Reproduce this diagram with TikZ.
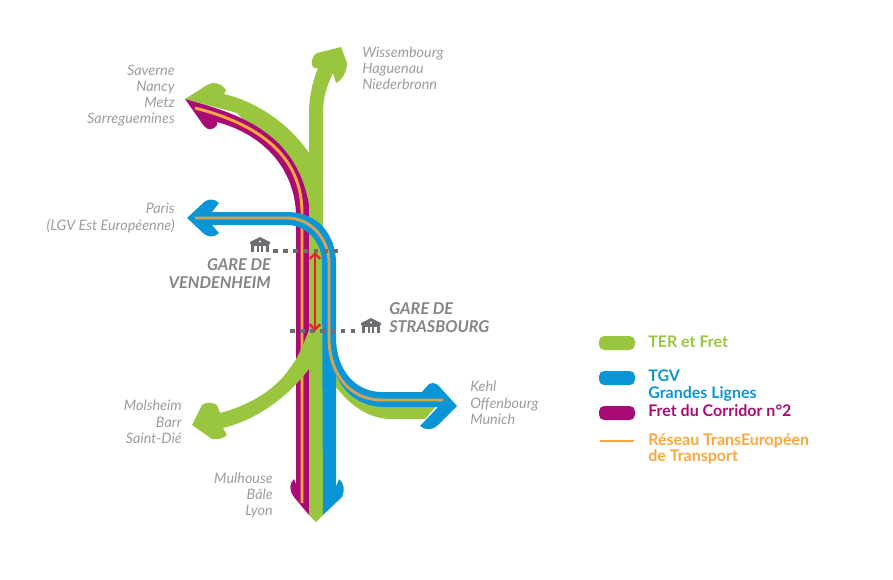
\documentclass[tikz,border=0pt]{standalone}
\usepackage{fontspec}
\usetikzlibrary{arrows.meta}
\setmainfont{Lato}
\definecolor{tgreen}{HTML}{9AC63F}
\definecolor{tblue}{HTML}{0A96D6}
\definecolor{tmag}{HTML}{A80C74}
\definecolor{torange}{HTML}{F9A73E}
\definecolor{ttan}{HTML}{CFA553}
\definecolor{tred}{HTML}{E3242F}
\definecolor{tgray}{HTML}{9C9C9F}
\definecolor{tdark}{HTML}{6D6E71}
\tikzset{
  lab/.style={inner sep=0pt,yshift=-1.1pt,text=tgray,font=\fontsize{10.8pt}{12pt}\selectfont\itshape,anchor=mid east},
  labl/.style={lab,anchor=mid west},
  gare/.style={inner sep=0pt,yshift=-1.1pt,text=tdark!85,font=\fontsize{12.2pt}{13pt}\selectfont\itshape\bfseries,anchor=mid east},
  garel/.style={gare,anchor=mid west},
  leg/.style={inner sep=0pt,yshift=-1.1pt,anchor=mid west,font=\fontsize{12pt}{12pt}\selectfont\bfseries},
  pill/.style={rounded corners=3.9pt,minimum width=27pt,minimum height=10.5pt,inner sep=0pt},
  oline/.style={line width=2.2pt,draw=torange},
  tline/.style={line width=2.2pt,draw=ttan},
  dots/.style={draw=tdark,line width=2.8pt,dash pattern=on 3.4pt off 4.2pt},
  house/.pic={
    \fill[tdark] (-10,-3) -- (0,-8) -- (10,-3) -- (10,-1) -- (-10,-1) -- cycle;
    \fill[tdark] (-9,-1) rectangle (-5.8,7);
    \fill[tdark] (-3.4,-1) rectangle (-0.9,7);
    \fill[tdark] (0.9,-1) rectangle (3.4,7);
    \fill[tdark] (5.8,-1) rectangle (9,7);
    \fill[tdark] (-9,-1) rectangle (9,1);
    \fill[white] (0,-3.5) circle (1.1);
  }
}
\begin{document}
\begin{tikzpicture}[x=0.75pt,y=-0.75pt]
\useasboundingbox (0,0) rectangle (893,579);
% green up-left branch
\fill[tgreen] (185,99) -- (207,85) .. controls (213,81) and (221,83) .. (226,90) -- (224,94)
  .. controls (258,102) and (290,125) .. (309,153) -- (309,205) -- (290,170) -- (237,113) -- cycle;
% magenta
\fill[tmag] (185,99) .. controls (235,113) and (296,130) .. (309,205) -- (309,515)
  -- (294,497) .. controls (289,490) and (289,484) .. (294,479) -- (296,484) -- (296,215)
  .. controls (295,170) and (265,135) .. (217,122) -- (217,125) .. controls (214,130) and (208,131) .. (204,126) -- cycle;
\draw[oline] (195,108) .. controls (250,122) and (302,150) .. (302,213) -- (302,503);
% green vertical + up arrow
\fill[tgreen] (309,515) -- (309,113) .. controls (309,98) and (312,83) .. (318,68) -- (314,68)
  .. controls (310,65) and (311,57) .. (317,53) -- (341,47) -- (347,63) .. controls (347,72) and (342,80) .. (336,83)
  -- (333,73) .. controls (327,85) and (323,98) .. (323,113) -- (323,515) -- (316,522) -- cycle;
% green left-down branch
\fill[tgreen] (309,330) .. controls (303,345) and (298,358) .. (290,368) .. controls (275,390) and (250,405) .. (220,413)
  -- (217,405) .. controls (212,402) and (206,402) .. (202,405) -- (192,425) -- (212,439) .. controls (218,440) and (224,438) .. (227,435)
  -- (223,428) .. controls (255,420) and (285,400) .. (309,369) -- cycle;
% green right branch
\fill[tgreen] (336,360) .. controls (345,385) and (365,400) .. (385,400) -- (438,404) -- (425,419) -- (392,419) .. controls (368,419) and (350,405) .. (336,387) -- cycle;
% blue
\fill[tblue] (187,218) -- (201,205) .. controls (207,198) and (214,198) .. (219,203) -- (212,212) -- (287,212)
  .. controls (318,212) and (336,235) .. (336,263) -- (336,340) .. controls (337,370) and (355,392) .. (382,392) -- (422,392)
  -- (428,385) .. controls (431,382) and (435,383) .. (438,385) -- (457,406) -- (438,425) .. controls (432,431) and (425,430) .. (420,426)
  -- (438,407) -- (385,407) .. controls (362,407) and (345,395) .. (336,375) -- (336,487) -- (339,479)
  .. controls (344,483) and (345,490) .. (342,497) -- (323,515) -- (322,263) .. controls (322,242) and (307,225) .. (287,225)
  -- (212,225) -- (219,233) .. controls (214,238) and (207,238) .. (201,231) -- cycle;
\draw[tline] (195,218) -- (287,218) .. controls (312,218) and (329,240) .. (329,263) -- (329,340) .. controls (330,375) and (350,400) .. (382,400) -- (443,400);
% stations
\draw[dots] (273,251) -- (342,251);
\draw[dots] (290,331) -- (358,331);
\draw[tred,line width=1.6pt,{Straight Barb[length=4pt,width=8pt]}-{Straight Barb[length=4pt,width=8pt]}] (315,252) -- (315,331);
\pic at (260,245) {house};
\pic at (371,326) {house};
% labels
\node[lab] (a1) at (175,71) {Saverne};
\node[lab] (a2) at (175,87) {Nancy};
\node[lab] (a3) at (175,103) {Metz};
\node[lab] (a4) at (175,119) {Sarreguemines};
\node[labl] (b1) at (362,53) {Wissembourg};
\node[labl] (b2) at (362,69) {Haguenau};
\node[labl] (b3) at (362,85) {Niederbronn};
\node[lab] (c1) at (175,209) {Paris};
\node[lab] (c2) at (175,226) {(LGV Est Européenne)};
\node[gare] (d1) at (271,266) {GARE DE};
\node[gare] (d2) at (271,284) {VENDENHEIM};
\node[garel] (e1) at (389,310) {GARE DE};
\node[garel] (e2) at (389,328) {STRASBOURG};
\node[labl] (f1) at (470,387) {Kehl};
\node[labl] (f2) at (470,404) {Offenbourg};
\node[labl] (f3) at (470,420) {Munich};
\node[lab] (g1) at (182,406) {Molsheim};
\node[lab] (g2) at (182,423) {Barr};
\node[lab] (g3) at (182,439) {Saint-Dié};
\node[lab] (h1) at (273,479) {Mulhouse};
\node[lab] (h2) at (273,495) {Bâle};
\node[lab] (h3) at (273,511) {Lyon};
% legend
\node[pill,fill=tgreen] (p1) at (617,343) {};
\node[pill,fill=tblue] (p2) at (617,378) {};
\node[pill,fill=tmag] (p3) at (617,413) {};
\coordinate (o1) at (600,441);
\coordinate (o2) at (634,441);
\draw[oline] (o1) -- (o2);
\node[leg,text=tgreen] (l1) at (648,343) {TER et Fret};
\node[leg,text=tblue] (l2) at (648,377) {TGV};
\node[leg,text=tblue] (l3) at (648,394) {Grandes Lignes};
\node[leg,text=tmag] (l4) at (648,412) {Fret du Corridor n°2};
\node[leg,text=torange] (l5) at (648,441) {Réseau TransEuropéen};
\node[leg,text=torange] (l6) at (648,457) {de Transport};
\end{tikzpicture}
\end{document}
